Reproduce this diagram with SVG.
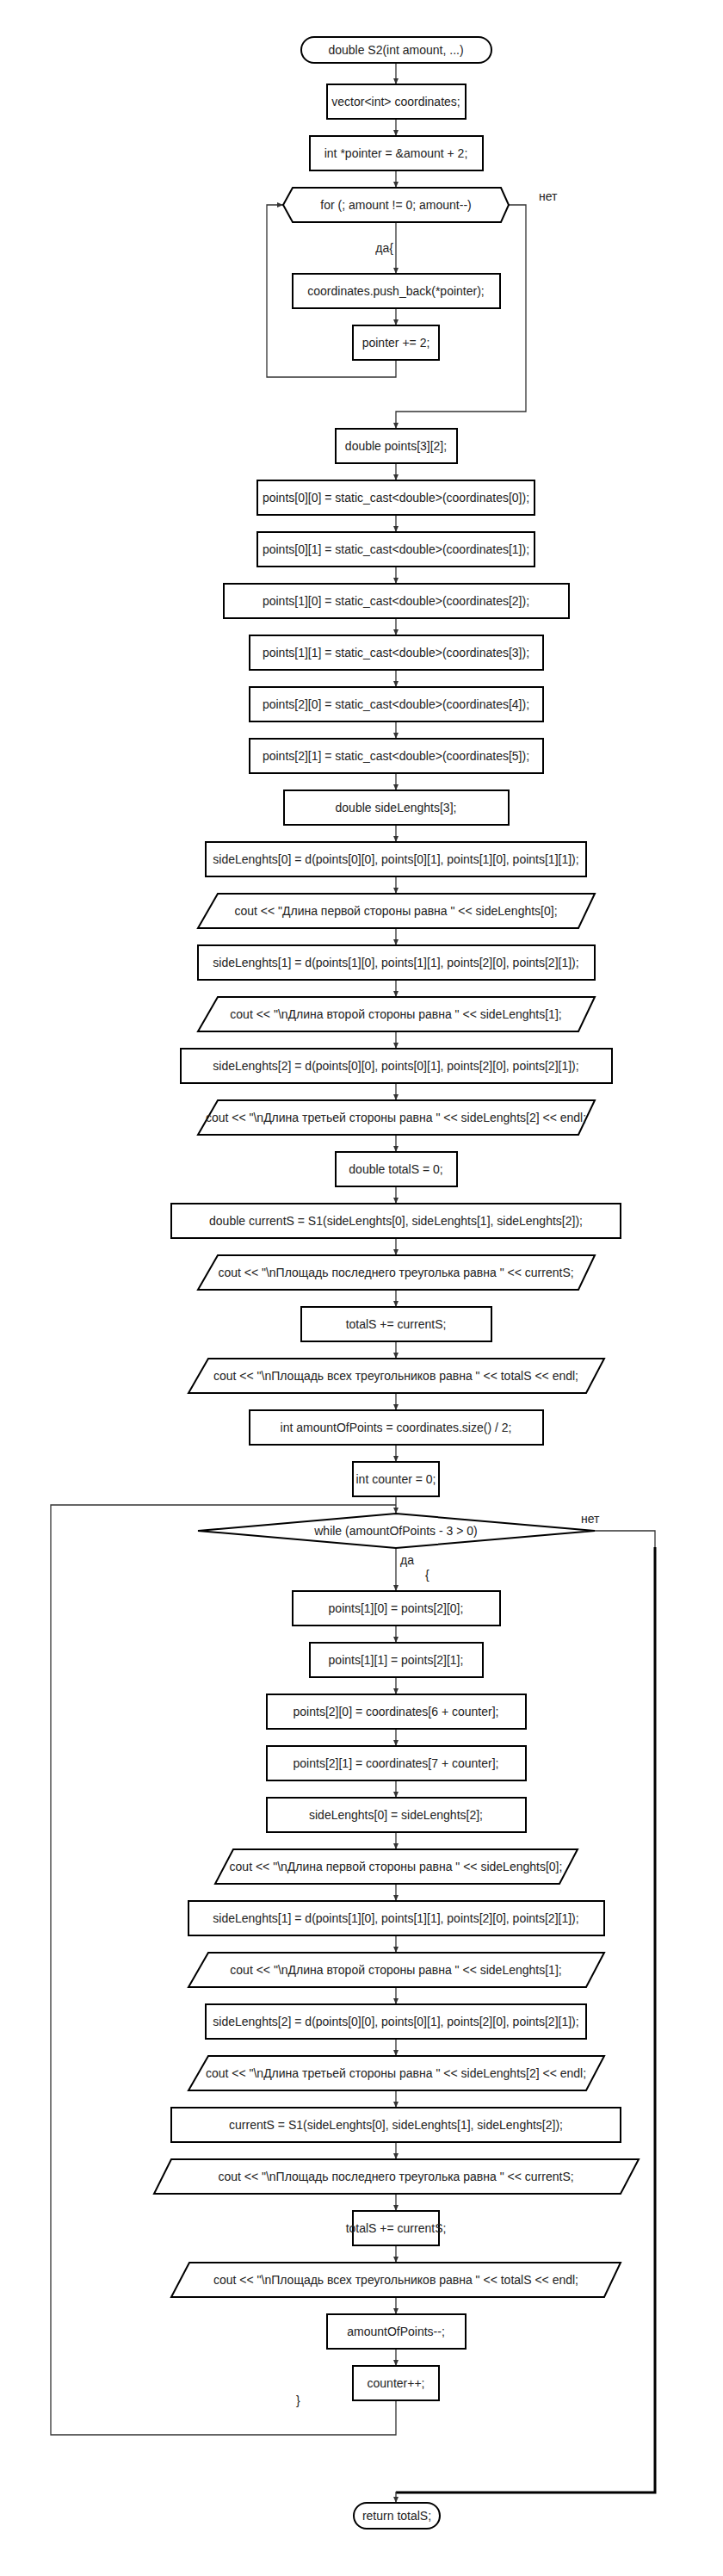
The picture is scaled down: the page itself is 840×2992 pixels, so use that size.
<svg xmlns="http://www.w3.org/2000/svg" width="840" height="2992" viewBox="0 0 840 2992">
<style>
.s{fill:#fff;stroke:#000;stroke-width:2}
.t{font-family:"Liberation Sans",Arial,sans-serif;font-size:14px;fill:#222;text-anchor:middle;dominant-baseline:central}
.l{font-family:"Liberation Sans",Arial,sans-serif;font-size:14px;fill:#222}
.c{fill:none;stroke:#333;stroke-width:1.3}
.a{fill:none;stroke:#333;stroke-width:1.3;marker-end:url(#ah)}
.k{fill:none;stroke:#000;stroke-width:3}
</style>
<defs>
<marker id="ah" markerUnits="userSpaceOnUse" markerWidth="8" markerHeight="8" refX="7" refY="4" orient="auto">
<path d="M0,1 L7,4 L0,7 Z" fill="#333"/>
</marker>
</defs>
<rect width="840" height="2992" fill="#fff"/>
<g id="connectors">
<path class="a" d="M460,73 V98"/>
<path class="a" d="M460,138 V158"/>
<path class="a" d="M460,198 V218"/>
<path class="a" d="M460,258 V318"/>
<path class="a" d="M460,358 V378"/>
<path class="a" d="M460,418 V438 H310 V238 H329"/>
<path class="a" d="M591,238 H611 V478 H460 V498"/>
<path class="a" d="M460,538 V558"/>
<path class="a" d="M460,598 V618"/>
<path class="a" d="M460,658 V678"/>
<path class="a" d="M460,718 V738"/>
<path class="a" d="M460,778 V798"/>
<path class="a" d="M460,838 V858"/>
<path class="a" d="M460,898 V918"/>
<path class="a" d="M460,958 V978"/>
<path class="a" d="M460,1018 V1038"/>
<path class="a" d="M460,1078 V1098"/>
<path class="a" d="M460,1138 V1158"/>
<path class="a" d="M460,1198 V1218"/>
<path class="a" d="M460,1258 V1278"/>
<path class="a" d="M460,1318 V1338"/>
<path class="a" d="M460,1378 V1398"/>
<path class="a" d="M460,1438 V1458"/>
<path class="a" d="M460,1498 V1518"/>
<path class="a" d="M460,1558 V1578"/>
<path class="a" d="M460,1618 V1638"/>
<path class="a" d="M460,1678 V1698"/>
<path class="a" d="M460,1738 V1758"/>
<path class="c" d="M460,2788 V2828 H59 V1748 H460"/>
<path class="a" d="M460,1798 V1848"/>
<path class="a" d="M460,1888 V1908"/>
<path class="a" d="M460,1948 V1968"/>
<path class="a" d="M460,2008 V2028"/>
<path class="a" d="M460,2068 V2088"/>
<path class="a" d="M460,2128 V2148"/>
<path class="a" d="M460,2188 V2208"/>
<path class="a" d="M460,2248 V2268"/>
<path class="a" d="M460,2308 V2328"/>
<path class="a" d="M460,2368 V2388"/>
<path class="a" d="M460,2428 V2448"/>
<path class="a" d="M460,2488 V2508"/>
<path class="a" d="M460,2548 V2568"/>
<path class="a" d="M460,2608 V2628"/>
<path class="a" d="M460,2668 V2688"/>
<path class="a" d="M460,2728 V2748"/>
<path class="c" d="M691,1778 H761 V1798"/>
<path class="k" d="M761,1797 V2895 H460"/>
<path class="a" d="M460,2894 V2907"/>
<text class="l" x="457" y="293" text-anchor="end">да{</text>
<text class="l" x="626" y="233">нет</text>
<text class="l" x="675" y="1769">нет</text>
<text class="l" x="465" y="1817">да</text>
<text class="l" x="494" y="1834">{</text>
<text class="l" x="344" y="2793">}</text>
</g>
<g id="n1"><rect class="s" x="350" y="43" width="221" height="30" rx="15"/><text class="t" x="460" y="58">double S2(int amount, ...)</text></g>
<g id="n2"><rect class="s" x="380" y="98" width="161" height="40"/><text class="t" x="460" y="118">vector&lt;int&gt; coordinates;</text></g>
<g id="n3"><rect class="s" x="360" y="158" width="201" height="40"/><text class="t" x="460" y="178">int *pointer = &amp;amount + 2;</text></g>
<g id="n4"><polygon class="s" points="340,218 582,218 591,238 582,258 340,258 329,238"/><text class="t" x="460" y="238">for (; amount != 0; amount--)</text></g>
<g id="n5"><rect class="s" x="340" y="318" width="241" height="40"/><text class="t" x="460" y="338">coordinates.push_back(*pointer);</text></g>
<g id="n6"><rect class="s" x="410" y="378" width="100" height="40"/><text class="t" x="460" y="398">pointer += 2;</text></g>
<g id="n7"><rect class="s" x="390" y="498" width="141" height="40"/><text class="t" x="460" y="518">double points[3][2];</text></g>
<g id="n8"><rect class="s" x="299" y="558" width="322" height="40"/><text class="t" x="460" y="578">points[0][0] = static_cast&lt;double&gt;(coordinates[0]);</text></g>
<g id="n9"><rect class="s" x="299" y="618" width="322" height="40"/><text class="t" x="460" y="638">points[0][1] = static_cast&lt;double&gt;(coordinates[1]);</text></g>
<g id="n10"><rect class="s" x="260" y="678" width="401" height="40"/><text class="t" x="460" y="698">points[1][0] = static_cast&lt;double&gt;(coordinates[2]);</text></g>
<g id="n11"><rect class="s" x="290" y="738" width="341" height="40"/><text class="t" x="460" y="758">points[1][1] = static_cast&lt;double&gt;(coordinates[3]);</text></g>
<g id="n12"><rect class="s" x="290" y="798" width="341" height="40"/><text class="t" x="460" y="818">points[2][0] = static_cast&lt;double&gt;(coordinates[4]);</text></g>
<g id="n13"><rect class="s" x="290" y="858" width="341" height="40"/><text class="t" x="460" y="878">points[2][1] = static_cast&lt;double&gt;(coordinates[5]);</text></g>
<g id="n14"><rect class="s" x="330" y="918" width="261" height="40"/><text class="t" x="460" y="938">double sideLenghts[3];</text></g>
<g id="n15"><rect class="s" x="239" y="978" width="442" height="40"/><text class="t" x="460" y="998">sideLenghts[0] = d(points[0][0], points[0][1], points[1][0], points[1][1]);</text></g>
<g id="n16"><polygon class="s" points="253,1038 691,1038 672,1078 230,1078"/><text class="t" x="460" y="1058">cout &lt;&lt; "Длина первой стороны равна " &lt;&lt; sideLenghts[0];</text></g>
<g id="n17"><rect class="s" x="230" y="1098" width="461" height="40"/><text class="t" x="460" y="1118">sideLenghts[1] = d(points[1][0], points[1][1], points[2][0], points[2][1]);</text></g>
<g id="n18"><polygon class="s" points="253,1158 691,1158 672,1198 230,1198"/><text class="t" x="460" y="1178">cout &lt;&lt; "\nДлина второй стороны равна " &lt;&lt; sideLenghts[1];</text></g>
<g id="n19"><rect class="s" x="210" y="1218" width="501" height="40"/><text class="t" x="460" y="1238">sideLenghts[2] = d(points[0][0], points[0][1], points[2][0], points[2][1]);</text></g>
<g id="n20"><polygon class="s" points="253,1278 691,1278 672,1318 230,1318"/><text class="t" x="460" y="1298">cout &lt;&lt; "\nДлина третьей стороны равна " &lt;&lt; sideLenghts[2] &lt;&lt; endl;</text></g>
<g id="n21"><rect class="s" x="390" y="1338" width="141" height="40"/><text class="t" x="460" y="1358">double totalS = 0;</text></g>
<g id="n22"><rect class="s" x="199" y="1398" width="522" height="40"/><text class="t" x="460" y="1418">double currentS = S1(sideLenghts[0], sideLenghts[1], sideLenghts[2]);</text></g>
<g id="n23"><polygon class="s" points="253,1458 691,1458 672,1498 230,1498"/><text class="t" x="460" y="1478">cout &lt;&lt; "\nПлощадь последнего треуголька равна " &lt;&lt; currentS;</text></g>
<g id="n24"><rect class="s" x="350" y="1518" width="221" height="40"/><text class="t" x="460" y="1538">totalS += currentS;</text></g>
<g id="n25"><polygon class="s" points="242,1578 702,1578 681,1618 219,1618"/><text class="t" x="460" y="1598">cout &lt;&lt; "\nПлощадь всех треугольников равна " &lt;&lt; totalS &lt;&lt; endl;</text></g>
<g id="n26"><rect class="s" x="290" y="1638" width="341" height="40"/><text class="t" x="460" y="1658">int amountOfPoints = coordinates.size() / 2;</text></g>
<g id="n27"><rect class="s" x="410" y="1698" width="100" height="40"/><text class="t" x="460" y="1718">int counter = 0;</text></g>
<g id="n28"><polygon class="s" points="460,1758 691,1778 460,1798 230,1778"/><text class="t" x="460" y="1778">while (amountOfPoints - 3 &gt; 0)</text></g>
<g id="n29"><rect class="s" x="340" y="1848" width="241" height="40"/><text class="t" x="460" y="1868">points[1][0] = points[2][0];</text></g>
<g id="n30"><rect class="s" x="360" y="1908" width="201" height="40"/><text class="t" x="460" y="1928">points[1][1] = points[2][1];</text></g>
<g id="n31"><rect class="s" x="310" y="1968" width="301" height="40"/><text class="t" x="460" y="1988">points[2][0] = coordinates[6 + counter];</text></g>
<g id="n32"><rect class="s" x="310" y="2028" width="301" height="40"/><text class="t" x="460" y="2048">points[2][1] = coordinates[7 + counter];</text></g>
<g id="n33"><rect class="s" x="310" y="2088" width="301" height="40"/><text class="t" x="460" y="2108">sideLenghts[0] = sideLenghts[2];</text></g>
<g id="n34"><polygon class="s" points="271,2148 671,2148 650,2188 250,2188"/><text class="t" x="460" y="2168">cout &lt;&lt; "\nДлина первой стороны равна " &lt;&lt; sideLenghts[0];</text></g>
<g id="n35"><rect class="s" x="219" y="2208" width="483" height="40"/><text class="t" x="460" y="2228">sideLenghts[1] = d(points[1][0], points[1][1], points[2][0], points[2][1]);</text></g>
<g id="n36"><polygon class="s" points="242,2268 702,2268 681,2308 219,2308"/><text class="t" x="460" y="2288">cout &lt;&lt; "\nДлина второй стороны равна " &lt;&lt; sideLenghts[1];</text></g>
<g id="n37"><rect class="s" x="239" y="2328" width="442" height="40"/><text class="t" x="460" y="2348">sideLenghts[2] = d(points[0][0], points[0][1], points[2][0], points[2][1]);</text></g>
<g id="n38"><polygon class="s" points="242,2388 702,2388 681,2428 219,2428"/><text class="t" x="460" y="2408">cout &lt;&lt; "\nДлина третьей стороны равна " &lt;&lt; sideLenghts[2] &lt;&lt; endl;</text></g>
<g id="n39"><rect class="s" x="199" y="2448" width="522" height="40"/><text class="t" x="460" y="2468">currentS = S1(sideLenghts[0], sideLenghts[1], sideLenghts[2]);</text></g>
<g id="n40"><polygon class="s" points="199,2508 742,2508 721,2548 179,2548"/><text class="t" x="460" y="2528">cout &lt;&lt; "\nПлощадь последнего треуголька равна " &lt;&lt; currentS;</text></g>
<g id="n41"><rect class="s" x="410" y="2568" width="100" height="40"/><text class="t" x="460" y="2588">totalS += currentS;</text></g>
<g id="n42"><polygon class="s" points="220,2628 721,2628 702,2668 199,2668"/><text class="t" x="460" y="2648">cout &lt;&lt; "\nПлощадь всех треугольников равна " &lt;&lt; totalS &lt;&lt; endl;</text></g>
<g id="n43"><rect class="s" x="380" y="2688" width="161" height="40"/><text class="t" x="460" y="2708">amountOfPoints--;</text></g>
<g id="n44"><rect class="s" x="410" y="2748" width="100" height="40"/><text class="t" x="460" y="2768">counter++;</text></g>
<g id="n45"><rect class="s" x="411" y="2907" width="100" height="30" rx="15"/><text class="t" x="461" y="2922">return totalS;</text></g>
</svg>
